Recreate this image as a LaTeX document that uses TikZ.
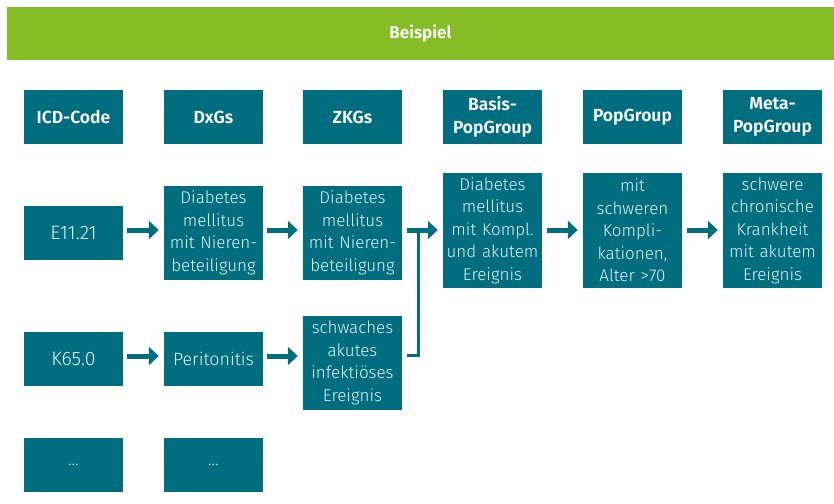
\documentclass[tikz,border=0pt]{standalone}
\usepackage{fontspec}
\setmainfont{Fira Sans Light}
\newfontfamily\headf{Fira Sans SemiBold}
\usetikzlibrary{arrows.meta}
\definecolor{boxteal}{HTML}{006E7F}
\definecolor{bannergreen}{HTML}{86BC25}
\definecolor{boxtext}{HTML}{E2F1F3}
\tikzset{
  box/.style={fill=boxteal, draw=none, inner sep=0pt, text width=99pt, minimum width=99pt, align=center,
    text=boxtext, font=\fontsize{17}{22.5}\selectfont},
  bigbox/.style={box, minimum height=54pt, font=\fontsize{19.5}{23}\selectfont},
  hbox/.style={box, minimum height=54pt, text=white, font=\headf\fontsize{17.5}{23}\selectfont},
  conn/.style={draw=boxteal, line width=5pt, -{Triangle[length=10pt,width=18pt]}},
  bracket/.style={draw=boxteal, line width=3.5pt}
}
\begin{document}
\begin{tikzpicture}[x=1pt,y=-1pt]
\useasboundingbox (0,0) rectangle (834,503);
\fill[bannergreen] (7,7) rectangle (834,60);
\node[text=white, font=\headf\fontsize{17}{20}\selectfont] (banner) at (420.5,33.5) {Beispiel};
% header row
\node[hbox] (h1) at (73.5,117) {ICD-Code};
\node[hbox] (h2) at (213.5,117) {DxGs};
\node[hbox] (h3) at (352.5,117) {ZKGs};
\node[hbox] (h4) at (492.5,117) {Basis-\\PopGroup};
\node[hbox] (h5) at (632.5,117) {PopGroup};
\node[hbox] (h6) at (772.5,117) {Meta-\\PopGroup};
% row 2
\node[bigbox] (e11) at (73.5,233) {E11.21};
\node[box, minimum height=94pt] (dx1) at (213.5,233) {Diabetes\\mellitus\\mit Nieren-\\beteiligung};
\node[box, minimum height=94pt] (zk1) at (352.5,233) {Diabetes\\mellitus\\mit Nieren-\\beteiligung};
\node[box, minimum height=115pt] (bp) at (492.5,230.5) {Diabetes\\mellitus\\mit Kompl.\\und akutem\\Ereignis};
\node[box, minimum height=115pt] (pg) at (632.5,230.5) {mit\\schweren\\Kompli-\\kationen,\\Alter >70};
\node[box, minimum height=115pt] (mp) at (772.5,230.5) {schwere\\chronische\\Krankheit\\mit akutem\\Ereignis};
% row 3
\node[bigbox] (k65) at (73.5,359) {K65.0};
\node[bigbox, font=\fontsize{17.8}{23}\selectfont] (dx2) at (213.5,359) {Peritonitis};
\node[box, minimum height=94pt] (zk2) at (352.5,363) {schwaches\\akutes\\infektiöses\\Ereignis};
% row 4
\node[box, minimum height=54pt] (d1) at (73.5,465) {...};
\node[box, minimum height=54pt] (d2) at (213.5,465) {...};
% arrows
\draw[conn] ([xshift=4pt]e11.east |- 0,230) -- ([xshift=-5pt]dx1.west |- 0,230);
\draw[conn] ([xshift=4pt]dx1.east |- 0,230) -- ([xshift=-5pt]zk1.west |- 0,230);
\draw[conn] ([xshift=4pt]k65.east |- 0,356) -- ([xshift=-5pt]dx2.west |- 0,356);
\draw[conn] ([xshift=4pt]dx2.east |- 0,356) -- ([xshift=-5pt]zk2.west |- 0,356);
\draw[conn] ([xshift=5pt]bp.east |- 0,230) -- ([xshift=-5pt]pg.west |- 0,230);
\draw[conn] ([xshift=5pt]pg.east |- 0,230) -- ([xshift=-5pt]mp.west |- 0,230);
\coordinate (vt) at (418.5,230);
\coordinate (vb) at (418.5,355.5);
\draw[bracket] ([xshift=5pt]zk2.east |- vb) -- (vb) -- (vt);
\draw[conn] ([xshift=5pt]zk1.east |- vt) -- ([xshift=-5pt]bp.west |- vt);
\end{tikzpicture}
\end{document}
